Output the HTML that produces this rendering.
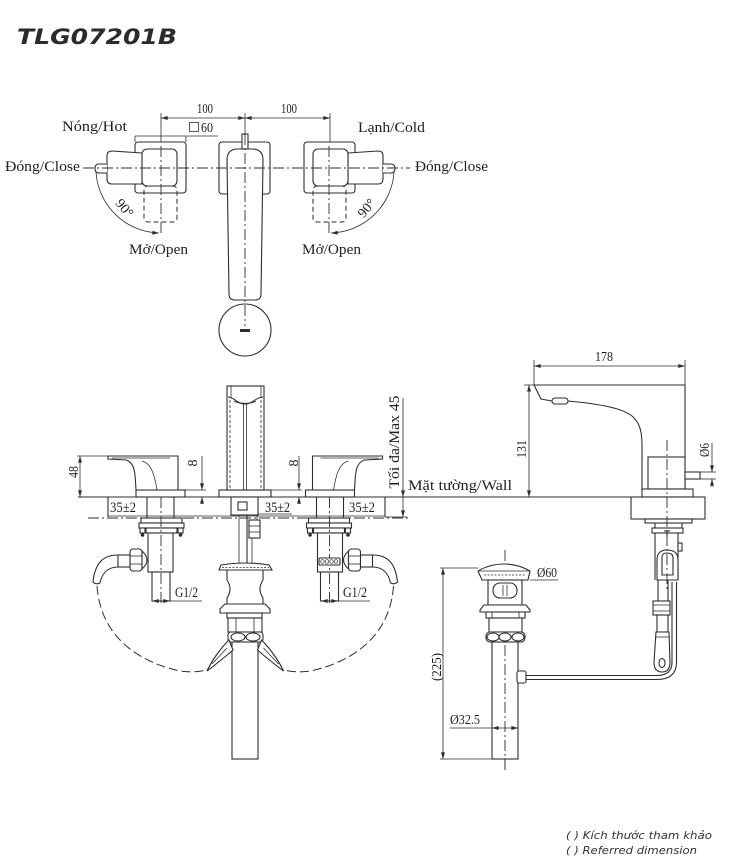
<!DOCTYPE html>
<html><head><meta charset="utf-8"><title>TLG07201B</title>
<style>
html,body{margin:0;padding:0;background:#fff;width:732px;height:862px;overflow:hidden}
svg{display:block}
.s{fill:none;stroke:#2e2e2e;stroke-width:1.1}
.f{fill:#fff;stroke:#2e2e2e;stroke-width:1.1}
.t{fill:none;stroke:#2e2e2e;stroke-width:0.8}
.c{fill:none;stroke:#2e2e2e;stroke-width:0.9;stroke-dasharray:11 3 2 3}
.d{fill:none;stroke:#2e2e2e;stroke-width:1;stroke-dasharray:5 3}
.dl{fill:none;stroke:#2e2e2e;stroke-width:1;stroke-dasharray:9 4}
text{font-family:"Liberation Serif","DejaVu Serif",serif;fill:#1e1e1e;font-size:15px}
.n{font-size:14px}
</style></head><body>
<svg width="732" height="862" viewBox="0 0 732 862" xmlns="http://www.w3.org/2000/svg" xmlns:xlink="http://www.w3.org/1999/xlink">
<defs>
<marker id="a" viewBox="0 0 8 6" refX="8" refY="3" markerWidth="7" markerHeight="5" markerUnits="userSpaceOnUse" orient="auto-start-reverse"><path d="M0,0.6 L8,3 L0,5.4 Z" fill="#2e2e2e"/></marker>

<!-- hot handle top view -->
<g id="hh">
<rect class="f" x="135" y="142" width="51" height="51" rx="3"/>
<rect class="d" x="144" y="186" width="33" height="36" rx="4"/>
<path class="f" d="M142,153 L112,151 Q107,151 107,156 L107,179 Q107,184 112,184 L142,184 Z"/>
<rect class="f" x="142" y="149" width="35" height="37" rx="5"/>
<path class="f" d="M107,164 L99,164 Q95,164 95,168.5 Q95,173 99,173 L107,173"/>
<path class="t" d="M96,172 A65,65 0 0 0 159,233" marker-end="url(#a)"/>
<line class="c" x1="161" y1="146" x2="161" y2="236"/>
</g>

<!-- hot handle front view -->
<g id="hf">
<rect class="f" x="136" y="490" width="49" height="7"/>
<path class="f" d="M108,456 L178,456 L178,490 L136,490 C135,476 136,463 126,460 L108,459 Z"/>
<path class="t" d="M112,458 L170,458"/>
<path class="t" d="M142,461 C152,463 155,478 157,490"/>
</g>

<!-- hot valve under deck -->
<g id="hv">
<line class="s" x1="147" y1="497" x2="147" y2="518"/>
<line class="s" x1="174" y1="497" x2="174" y2="518"/>
<rect class="f" x="141" y="518" width="41" height="5"/>
<rect class="f" x="139" y="523" width="45" height="5"/>
<rect class="f" x="146" y="528" width="31" height="5"/>
<rect class="f" x="140" y="528" width="5" height="5"/>
<rect class="f" x="178" y="528" width="5" height="5"/>
<circle cx="142.5" cy="535" r="1.8" fill="#2e2e2e"/>
<circle cx="180.5" cy="535" r="1.8" fill="#2e2e2e"/>
<rect class="f" x="148" y="533" width="25" height="39"/>
<path class="f" d="M142,551 Q152,560 142,569 Z"/>
<rect class="f" x="130" y="549" width="12" height="22" rx="3"/>
<line class="t" x1="130" y1="556" x2="142" y2="556"/>
<line class="t" x1="130" y1="564" x2="142" y2="564"/>
<rect class="f" x="118" y="555" width="12" height="12"/>
<path class="s" d="M118,555 C103,555 95,563 93,582"/>
<path class="s" d="M118,567 C108,567 102,573 100,583"/>
<path class="s" d="M93,582 Q96,585 100,583"/>
<rect class="f" x="152" y="572" width="18" height="29"/>
<line class="c" x1="161" y1="497" x2="161" y2="603"/>
<path class="dl" d="M97,586 C100,630 130,660 180,671 C195,673 204,671 208,669"/>
</g>

<!-- drain clip -->
<g id="cl">
<path class="f" d="M229,640 C221,648 212,660 207,671 C215,665 225,657 233,650 Z"/>
<path class="t" d="M227,648 L212,664"/>
</g>
</defs>

<!-- TITLE -->
<text x="17" y="44" style="font-family:'DejaVu Sans','Liberation Sans',sans-serif;font-weight:bold;font-style:italic;font-size:21px;fill:#2b2b2b" textLength="160" lengthAdjust="spacingAndGlyphs">TLG07201B</text>

<!-- ================= TOP VIEW ================= -->
<line class="t" x1="161" y1="113" x2="161" y2="146"/>
<line class="t" x1="330" y1="113" x2="330" y2="146"/>
<line class="t" x1="245" y1="113" x2="245" y2="134"/>
<line class="t" x1="161" y1="118" x2="245" y2="118" marker-start="url(#a)" marker-end="url(#a)"/>
<line class="t" x1="245" y1="118" x2="330" y2="118" marker-start="url(#a)" marker-end="url(#a)"/>
<text class="n" x="197" y="113" textLength="16" lengthAdjust="spacingAndGlyphs">100</text>
<text class="n" x="281" y="113" textLength="16" lengthAdjust="spacingAndGlyphs">100</text>
<line class="t" x1="135" y1="136" x2="218" y2="136"/>
<line class="t" x1="135" y1="136" x2="135" y2="142"/>
<line class="t" x1="186" y1="136" x2="186" y2="142"/>
<rect class="t" x="189.5" y="122.5" width="9" height="9"/>
<text class="n" x="201" y="132" textLength="12" lengthAdjust="spacingAndGlyphs">60</text>

<use href="#hh" xlink:href="#hh"/>
<use href="#hh" xlink:href="#hh" transform="translate(490,0) scale(-1,1)"/>

<!-- spout top -->
<rect class="f" x="219" y="142" width="51" height="52" rx="3"/>
<path class="f" d="M227,160 Q227,149 238,149 L252,149 Q263,149 263,160 L261,294 Q261,300 255,300 L235,300 Q229,300 229,294 Z"/>
<rect class="f" x="242" y="134" width="6" height="15"/>
<circle class="s" cx="245" cy="330" r="26"/>
<rect x="240" y="329" width="10" height="3" fill="#2e2e2e"/>
<line class="c" x1="245" y1="134" x2="245" y2="326"/>
<line class="c" x1="83" y1="168" x2="410" y2="168"/>

<text x="62" y="131" textLength="65" lengthAdjust="spacingAndGlyphs">Nóng/Hot</text>
<text x="358" y="132" textLength="67" lengthAdjust="spacingAndGlyphs">Lạnh/Cold</text>
<text x="5" y="171" textLength="75" lengthAdjust="spacingAndGlyphs">Đóng/Close</text>
<text x="415" y="171" textLength="73" lengthAdjust="spacingAndGlyphs">Đóng/Close</text>
<text x="129" y="254" textLength="59" lengthAdjust="spacingAndGlyphs">Mở/Open</text>
<text x="302" y="254" textLength="59" lengthAdjust="spacingAndGlyphs">Mở/Open</text>
<text class="n" transform="translate(121,211) rotate(50)" text-anchor="middle">90°</text>
<text class="n" transform="translate(370,211) rotate(-50)" text-anchor="middle">90°</text>

<!-- ================= FRONT VIEW ================= -->
<line class="s" x1="78" y1="497" x2="520" y2="497"/>
<line class="s" x1="108" y1="497" x2="108" y2="517"/>
<line class="s" x1="385" y1="497" x2="385" y2="517"/>
<line class="t" x1="108" y1="516" x2="385" y2="516"/>
<line class="c" x1="88" y1="518" x2="408" y2="518"/>

<!-- 48 dim -->
<line class="t" x1="77" y1="456" x2="108" y2="456"/>
<line class="t" x1="80" y1="456" x2="80" y2="497" marker-start="url(#a)" marker-end="url(#a)"/>
<text class="n" transform="translate(78,472) rotate(-90)" text-anchor="middle" textLength="12" lengthAdjust="spacingAndGlyphs">48</text>

<use href="#hf" xlink:href="#hf"/>
<use href="#hf" xlink:href="#hf" transform="translate(490.5,0) scale(-1,1)"/>

<!-- 8 dims -->
<line class="t" x1="185" y1="490" x2="206" y2="490"/>
<line class="t" x1="202" y1="456" x2="202" y2="490" marker-end="url(#a)"/>
<line class="t" x1="202" y1="497" x2="202" y2="504" marker-start="url(#a)"/>
<text class="n" transform="translate(197,463) rotate(-90)" text-anchor="middle">8</text>
<line class="t" x1="271" y1="490" x2="302" y2="490"/>
<line class="t" x1="299" y1="456" x2="299" y2="490" marker-end="url(#a)"/>
<line class="t" x1="299" y1="497" x2="299" y2="504" marker-start="url(#a)"/>
<text class="n" transform="translate(298,463) rotate(-90)" text-anchor="middle">8</text>

<!-- spout front -->
<rect class="f" x="219" y="490" width="52" height="7"/>
<rect class="f" x="227" y="386" width="37" height="104"/>
<line class="t" x1="231" y1="386" x2="231" y2="398"/>
<line class="t" x1="261" y1="386" x2="261" y2="398"/>
<line class="t" x1="230" y1="400" x2="230" y2="488" stroke-dasharray="3 2"/>
<line class="t" x1="261" y1="400" x2="261" y2="488" stroke-dasharray="3 2"/>
<path class="s" d="M228,397 C236,398 237,404 245,404 C253,404 254,398 263,397"/>
<path class="t" d="M234,401 C238,404 252,404 256,401"/>
<line class="t" x1="243.5" y1="404" x2="243.5" y2="490"/>
<line class="t" x1="246.5" y1="404" x2="246.5" y2="490"/>

<!-- Max 45 -->
<line class="t" x1="403" y1="398" x2="403" y2="497" marker-end="url(#a)"/>
<line class="t" x1="403" y1="497" x2="403" y2="517" marker-end="url(#a)"/>
<line class="t" x1="385" y1="517" x2="407" y2="517"/>
<text transform="translate(399,442) rotate(-90)" text-anchor="middle" textLength="93" lengthAdjust="spacingAndGlyphs">Tối đa/Max 45</text>
<text x="408" y="490" textLength="104" lengthAdjust="spacingAndGlyphs">Mặt tường/Wall</text>

<!-- 35±2 -->
<text x="110" y="512" textLength="26" lengthAdjust="spacingAndGlyphs">35±2</text>
<text x="265" y="512" textLength="25" lengthAdjust="spacingAndGlyphs">35±2</text>
<text x="349" y="512" textLength="26" lengthAdjust="spacingAndGlyphs">35±2</text>
<line class="t" x1="231" y1="514" x2="292" y2="514"/>

<!-- valves under deck -->
<use href="#hv" xlink:href="#hv"/>
<use href="#hv" xlink:href="#hv" transform="translate(490.5,0) scale(-1,1)"/>
<rect class="f" x="319" y="558" width="21" height="7" rx="1"/>
<g fill="none" stroke="#2e2e2e" stroke-width="0.7">
<circle cx="322.5" cy="561.5" r="1.8"/><circle cx="327" cy="561.5" r="1.8"/><circle cx="331.5" cy="561.5" r="1.8"/><circle cx="336" cy="561.5" r="1.8"/>
</g>

<!-- G1/2 -->
<line class="t" x1="152" y1="601" x2="202" y2="601"/>
<line class="t" x1="152" y1="601" x2="170" y2="601" marker-start="url(#a)" marker-end="url(#a)"/>
<text x="175" y="597" textLength="23" lengthAdjust="spacingAndGlyphs">G1/2</text>
<line class="t" x1="321" y1="601" x2="370" y2="601"/>
<line class="t" x1="321" y1="601" x2="338" y2="601" marker-start="url(#a)" marker-end="url(#a)"/>
<text x="343" y="597" textLength="24" lengthAdjust="spacingAndGlyphs">G1/2</text>

<!-- spout stem under deck -->
<line class="t" x1="239" y1="515" x2="239" y2="563"/>
<line class="s" x1="247" y1="497" x2="247" y2="563"/>
<line class="t" x1="252" y1="538" x2="252" y2="563"/>
<line class="t" x1="257" y1="497" x2="257" y2="520"/>
<rect class="f" x="231" y="497" width="27" height="18"/>
<rect class="s" x="238" y="502" width="9" height="8"/>
<rect class="f" x="249" y="520" width="11" height="18"/>
<line class="t" x1="249" y1="526" x2="260" y2="526"/>
<line class="t" x1="249" y1="532" x2="260" y2="532"/>

<!-- drain front -->
<path class="f" d="M219,570 L221,565 Q245,561 269,565 L272,570 Z"/>
<line class="t" x1="222" y1="567.5" x2="269" y2="567.5" stroke-dasharray="2 1.5"/>
<path class="f" d="M227,570 L263,570 L263,580 Q257,589 263,598 L263,604 L227,604 L227,598 Q233,589 227,580 Z"/>
<path class="f" d="M225,604 L265,604 L270,609 L270,613 L220,613 L220,609 Z"/>
<rect class="f" x="227" y="613" width="35" height="5"/>
<rect class="f" x="228" y="618" width="34" height="14"/>
<line class="t" x1="236" y1="618" x2="236" y2="632"/>
<line class="t" x1="254" y1="618" x2="254" y2="632"/>
<rect class="f" x="228" y="632" width="35" height="10" rx="3"/>
<ellipse class="s" cx="238" cy="637" rx="7" ry="4"/>
<ellipse class="s" cx="253" cy="637" rx="7" ry="4"/>
<rect class="f" x="232" y="642" width="26" height="117"/>
<use href="#cl" xlink:href="#cl"/>
<use href="#cl" xlink:href="#cl" transform="translate(490.5,0) scale(-1,1)"/>

<!-- ================= SIDE VIEW ================= -->
<line class="t" x1="534" y1="360" x2="534" y2="385"/>
<line class="t" x1="685" y1="360" x2="685" y2="385"/>
<line class="t" x1="534" y1="366" x2="685" y2="366" marker-start="url(#a)" marker-end="url(#a)"/>
<text class="n" x="595" y="361" textLength="18" lengthAdjust="spacingAndGlyphs">178</text>

<line class="t" x1="524" y1="385" x2="534" y2="385"/>
<line class="t" x1="529" y1="385" x2="529" y2="497" marker-start="url(#a)" marker-end="url(#a)"/>
<text class="n" transform="translate(526,449) rotate(-90)" text-anchor="middle" textLength="18" lengthAdjust="spacingAndGlyphs">131</text>
<line class="s" x1="520" y1="497" x2="642" y2="497"/>

<path class="s" d="M534,385 L685,385 L685,489"/>
<path class="s" d="M534,385 L541,399 L552,401"/>
<rect class="f" x="552" y="398" width="16" height="6" rx="3"/>
<path class="s" d="M568,401 C600,404 622,408 632,416 C640,423 642,432 642,445 L642,489"/>
<rect class="f" x="648" y="457" width="37" height="32"/>
<rect class="f" x="642" y="489" width="51" height="8"/>
<rect class="f" x="685" y="472" width="15" height="7"/>
<line class="t" x1="700" y1="472" x2="716" y2="472"/>
<line class="t" x1="700" y1="479" x2="716" y2="479"/>
<line class="t" x1="712" y1="443" x2="712" y2="472" marker-end="url(#a)"/>
<line class="t" x1="712" y1="479" x2="712" y2="487" marker-start="url(#a)"/>
<text class="n" transform="translate(709,450) rotate(-90)" text-anchor="middle" textLength="14" lengthAdjust="spacingAndGlyphs">Ø6</text>

<rect class="f" x="631" y="497" width="74" height="22"/>
<rect class="f" x="645" y="519" width="47" height="4"/>
<line class="s" x1="655" y1="523" x2="655" y2="528"/>
<line class="s" x1="682" y1="523" x2="682" y2="528"/>
<rect class="f" x="652" y="528" width="31" height="5"/>
<line class="s" x1="664" y1="531" x2="670" y2="531"/>
<line class="s" x1="667" y1="530" x2="667" y2="537"/>
<line class="s" x1="655" y1="533" x2="655" y2="580"/>
<line class="s" x1="678" y1="533" x2="678" y2="580"/>
<rect class="f" x="678" y="543" width="4" height="8"/>
<path class="f" d="M657,560 Q657,550 667,550 Q678,550 678,560 L678,580 L657,580 Z"/>
<path class="s" d="M662,557 Q662,553 667,553 Q673,553 673,558 L673,575 L662,575 Z"/>
<line class="s" x1="658" y1="580" x2="658" y2="601"/>
<line class="s" x1="668" y1="580" x2="668" y2="601"/>
<!-- rod -->
<path class="s" d="M525,675.5 L657,675.5 Q672,675.5 672,662 L672,582"/>
<path class="s" d="M525,679.5 L657,679.5 Q676.5,679.5 676.5,662 L676.5,582"/>
<rect class="f" x="653" y="601" width="17" height="14"/>
<line class="t" x1="653" y1="605" x2="670" y2="605"/>
<line class="t" x1="653" y1="611" x2="670" y2="611"/>
<rect class="f" x="657" y="615" width="11" height="17"/>
<path class="f" d="M656,632 L669,632 L670,662 Q670,672 662,672 Q654,672 654,662 Z"/>
<line class="t" x1="655" y1="637" x2="669" y2="637"/>
<ellipse class="s" cx="662" cy="663" rx="3" ry="4.5"/>
<line class="c" x1="667" y1="440" x2="667" y2="590"/>

<!-- pop-up side -->
<line class="c" x1="505" y1="550" x2="505" y2="772"/>
<path class="f" d="M478,571 Q490,564 504,564 Q518,564 530,571 L528,580 L482,580 Z"/>
<line class="t" x1="479" y1="571" x2="529" y2="571"/>
<line class="t" x1="484" y1="575" x2="526" y2="575" stroke-dasharray="2 1.5"/>
<rect class="f" x="488" y="580" width="34" height="25"/>
<rect class="s" x="493" y="583" width="24" height="15" rx="7"/>
<line class="t" x1="503" y1="585" x2="503" y2="596"/>
<line class="t" x1="507" y1="585" x2="507" y2="596"/>
<path class="f" d="M484,605 L526,605 L530,610 L530,612 L480,612 L480,610 Z"/>
<rect class="f" x="486" y="612" width="39" height="6"/>
<line class="t" x1="492" y1="612" x2="492" y2="618"/>
<line class="t" x1="519" y1="612" x2="519" y2="618"/>
<rect class="f" x="489" y="618" width="33" height="14"/>
<rect class="f" x="486" y="632" width="39" height="10" rx="4"/>
<ellipse class="s" cx="493" cy="637" rx="6" ry="4"/>
<ellipse class="s" cx="505" cy="637" rx="6" ry="4"/>
<ellipse class="s" cx="518" cy="637" rx="6" ry="4"/>
<rect class="f" x="492" y="642" width="26" height="117"/>
<line class="c" x1="505" y1="645" x2="505" y2="772"/>
<rect class="f" x="517" y="671" width="9" height="12" rx="2"/>

<!-- Ø60 -->
<line class="t" x1="530" y1="580" x2="558" y2="580"/>
<text class="n" x="537" y="577" textLength="20" lengthAdjust="spacingAndGlyphs">Ø60</text>
<!-- (225) -->
<line class="t" x1="440" y1="568" x2="478" y2="568"/>
<line class="t" x1="440" y1="759" x2="492" y2="759"/>
<line class="t" x1="443" y1="568" x2="443" y2="759" marker-start="url(#a)" marker-end="url(#a)"/>
<text class="n" transform="translate(441,667) rotate(-90)" text-anchor="middle" textLength="28" lengthAdjust="spacingAndGlyphs">(225)</text>
<!-- Ø32.5 -->
<line class="t" x1="450" y1="728" x2="492" y2="728"/>
<line class="t" x1="492" y1="728" x2="518" y2="728" marker-start="url(#a)" marker-end="url(#a)"/>
<text class="n" x="450" y="724" textLength="30" lengthAdjust="spacingAndGlyphs">Ø32.5</text>

<!-- footnote -->
<text x="566" y="839" style="font-family:'DejaVu Sans','Liberation Sans',sans-serif;font-style:italic;font-size:11px;fill:#333" textLength="146" lengthAdjust="spacingAndGlyphs">( ) Kích thước tham khảo</text>
<text x="566" y="854" style="font-family:'DejaVu Sans','Liberation Sans',sans-serif;font-style:italic;font-size:11px;fill:#333" textLength="131" lengthAdjust="spacingAndGlyphs">( ) Referred dimension</text>
</svg>
</body></html>
